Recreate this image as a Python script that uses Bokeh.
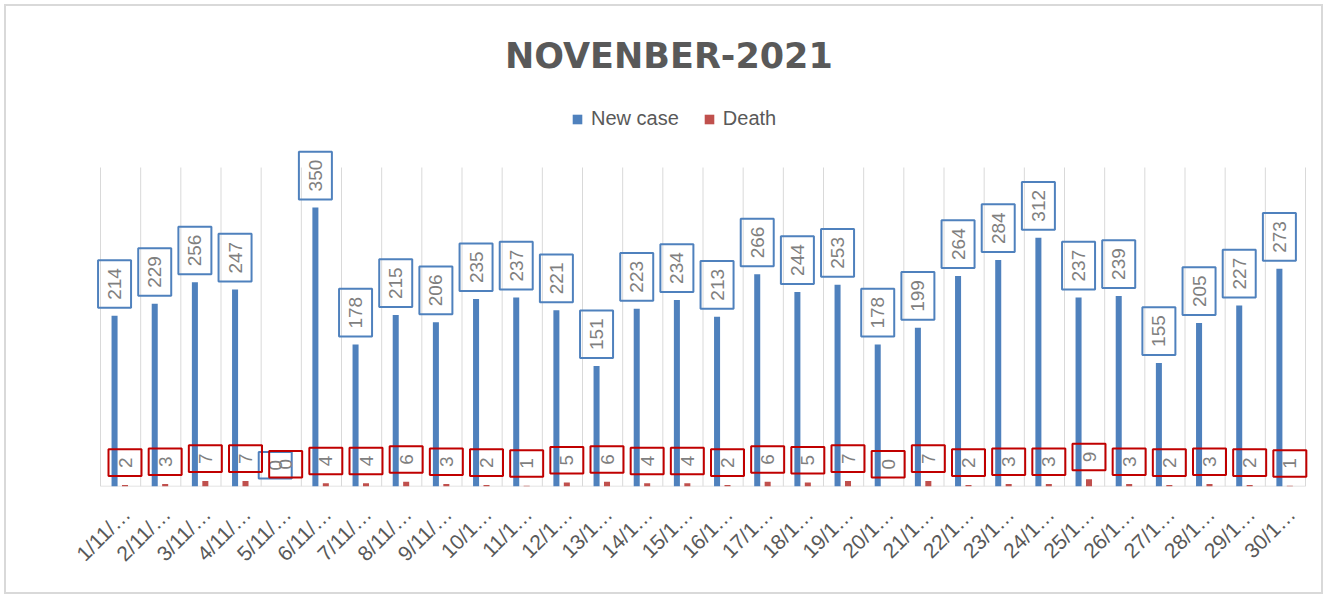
import math
from bokeh.plotting import figure
from bokeh.models import ColumnDataSource, Range1d, FixedTicker, Label
from bokeh.core.properties import value
from bokeh.embed import file_html
from bokeh.resources import INLINE

# ---- data ----
days = [f"{d}/11/…" if d < 10 else f"{d}/1…" for d in range(1, 31)]
new_case = [214, 229, 256, 247, 0, 350, 178, 215, 206, 235, 237, 221, 151, 223, 234,
            213, 266, 244, 253, 178, 199, 264, 284, 312, 237, 239, 155, 205, 227, 273]
death = [2, 3, 7, 7, 0, 4, 4, 6, 3, 2, 1, 5, 6, 4, 4,
         2, 6, 5, 7, 0, 7, 2, 3, 3, 9, 3, 2, 3, 2, 1]
title_text = "NOVENBER-2021"
series_names = ["New case", "Death"]

BLUE = "#4f81bd"
RED = "#c0504d"
RED_BOX = "#c00000"
GRID = "#d9d9d9"
TXT = "#7f7f7f"
DARK = "#595959"

W, H = 1319, 590
FRAME_H = 480
PLOT_PX = 319             # pixels from baseline to value 400
Y_MAX = 400
Y_END = Y_MAX * FRAME_H / PLOT_PX
n = len(days)
CAT_PX = 1205 / n         # pixel width of one category
EXTRA_L, EXTRA_R = 40, 20 # frame extends beyond the category area (label boxes)
MB_LEFT = 94 - EXTRA_L

def ypx(px):
    return px * Y_END / FRAME_H

centers = [i + 0.5 for i in range(n)]
blue_x = [c - 0.15 for c in centers]
red_x = [c + 0.11 for c in centers]
label_pos = [c + 0.15 for c in centers]

src = ColumnDataSource(dict(
    bx=blue_x, rx=red_x, nc=new_case, de=death,
    nct=[str(v) for v in new_case], det=[str(v) for v in death],
))

p = figure(width=W, height=H, output_backend="svg", toolbar_location=None,
           x_range=Range1d(-EXTRA_L / CAT_PX, n + EXTRA_R / CAT_PX),
           y_range=Range1d(0, Y_END),
           min_border_left=MB_LEFT, min_border_right=0, min_border_top=0,
           min_border_bottom=H - FRAME_H)
p.styles = {"border": "2px solid #d9d9d9", "margin-left": "4px", "margin-top": "4px"}
p.outline_line_color = None
p.yaxis.visible = False
p.xgrid.visible = False
p.ygrid.visible = False

# vertical category boundary lines and baseline
bounds = list(range(n + 1))
p.segment(x0=bounds, y0=[0] * len(bounds), x1=bounds, y1=[Y_MAX] * len(bounds),
          line_color=GRID, line_width=1)
p.segment(x0=[0], y0=[0], x1=[n], y1=[0], line_color=GRID, line_width=1.5)

p.vbar(x="bx", top="nc", width=0.15, bottom=0, source=src, fill_color=BLUE,
       line_color=None, legend_label=series_names[0])
p.vbar(x="rx", top="de", width=0.15, bottom=0, source=src, fill_color=RED,
       line_color=None, legend_label=series_names[1])

pad = dict(left=8, right=8, top=10, bottom=10)
p.text(x="bx", y="nc", text="nct", source=src, angle=math.pi / 2,
       text_align="left", text_baseline="middle", y_offset=-8,
       text_font=value("Liberation Sans"), text_font_size="19px", text_color=TXT,
       border_line_color=BLUE, border_line_width=2, padding=pad)
p.text(x="rx", y="de", text="det", source=src, angle=math.pi / 2,
       text_align="left", text_baseline="middle", y_offset=-9,
       text_font=value("Liberation Sans"), text_font_size="19px", text_color=TXT,
       border_line_color=RED_BOX, border_line_width=2, padding=pad)

# x axis
ax = p.xaxis[0]
ax.ticker = FixedTicker(ticks=label_pos)
ax.major_label_overrides = {c: d for c, d in zip(label_pos, days)}
ax.major_label_orientation = math.pi / 4
ax.major_label_text_font = "Liberation Sans"
ax.major_label_text_font_size = "21px"
ax.major_label_text_color = DARK
ax.major_label_standoff = 18
ax.axis_line_color = None
ax.major_tick_line_color = None
ax.minor_tick_line_color = None

# title
p.add_layout(Label(x=n / 2 - 0.85, y=ypx(431), text=title_text, text_align="center",
                   text_baseline="alphabetic", text_font="DejaVu Sans",
                   text_font_style="bold", text_font_size="35px", text_color=DARK))

lg = p.legend[0]
lg.location = (471 + EXTRA_L, 356)
lg.orientation = "horizontal"
lg.padding = 0
lg.margin = 0
lg.spacing = 24
lg.label_standoff = 8
lg.glyph_width = 12
lg.glyph_height = 12
lg.label_height = 20
lg.label_text_font = "Liberation Sans"
lg.label_text_font_size = "20px"
lg.label_text_color = DARK
lg.border_line_color = None
lg.background_fill_alpha = 0

open("out.html", "w").write(file_html(p, INLINE))
